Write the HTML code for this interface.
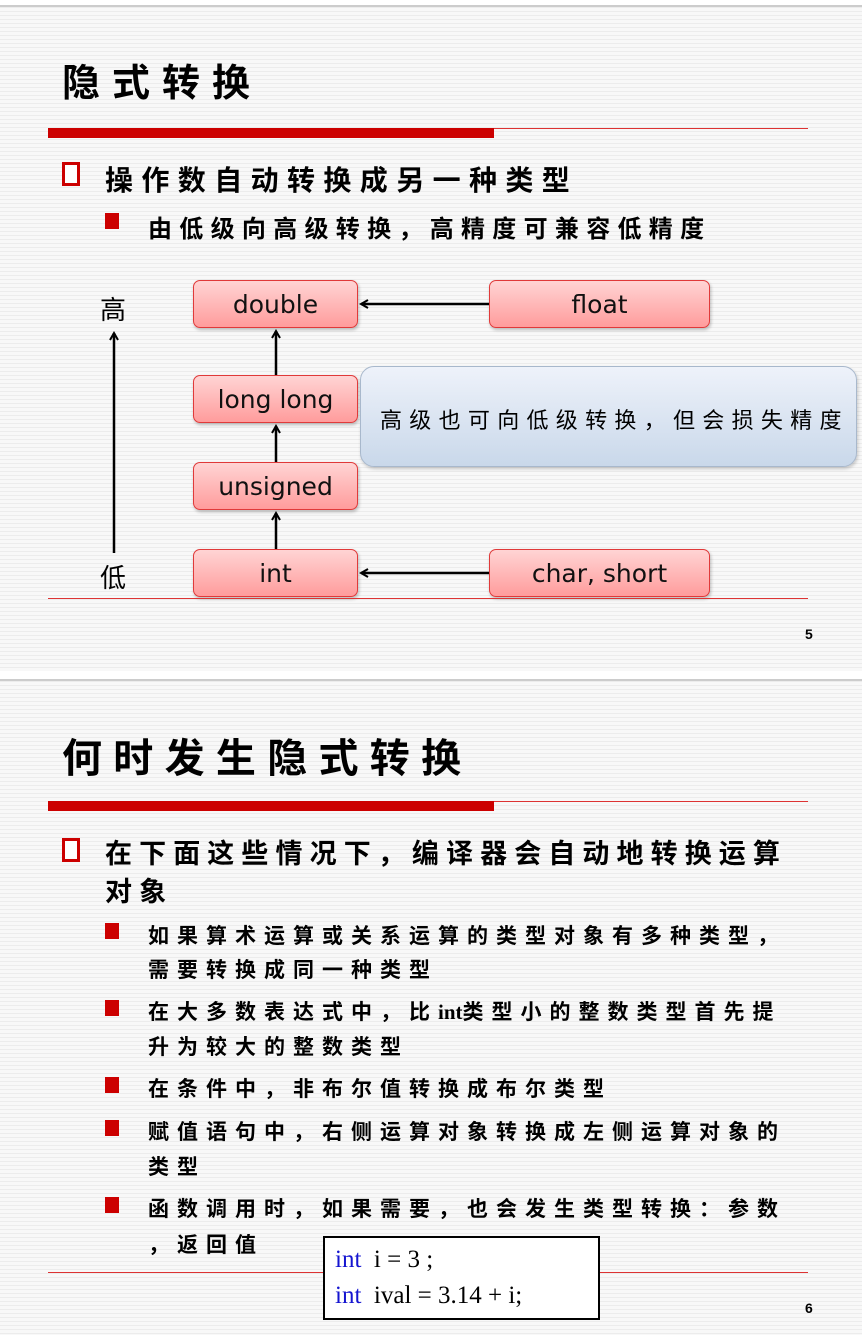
<!DOCTYPE html>
<html><head><meta charset="utf-8"><style>
*{margin:0;padding:0;box-sizing:border-box}
body{width:862px;height:1335px;position:relative;overflow:hidden;background:#fff;font-family:"Liberation Sans","Noto Sans CJK SC",sans-serif;color:#000}
.slide{position:absolute;left:0;width:862px;background:repeating-linear-gradient(to bottom,#ececec 0px,#ececec 1px,#f8f8f8 1px,#f8f8f8 4px)}
.a{position:absolute;white-space:nowrap}
.t{font-weight:bold;font-family:"Noto Sans CJK SC","WenQuanYi Zen Hei",sans-serif}
.box{position:absolute;border:1px solid #e03a3a;border-radius:7px;background:linear-gradient(#ffd4d4,#ff9c9c);box-shadow:1px 2px 3px rgba(0,0,0,.25);font-family:"DejaVu Sans","Liberation Sans",sans-serif;font-size:25px;text-align:center;line-height:48px;color:#111}
.hs{position:absolute;width:18px;height:24px;border:3px solid #c00;background:#fff}
.fs{position:absolute;width:14px;height:16px;background:#c00}
.rl{position:absolute;height:1px;background:#d33}
</style></head><body>
<div class="slide" style="top:0;height:666px;border-top:2px solid #ccc;margin-top:5px"></div>
<div class="slide" style="top:679px;height:656px;border-top:2px solid #ccc"></div>

<!-- slide 1 -->
<div class="a t" style="left:62px;top:52px;font-size:38px;letter-spacing:12px">隐式转换</div>
<div class="a" style="left:48px;top:128px;width:446px;height:10px;background:#c00"></div>
<div class="rl" style="left:494px;top:128px;width:314px"></div>
<div class="hs" style="left:62px;top:162px"></div>
<div class="a t" style="left:105px;top:159px;font-size:28px;letter-spacing:8.4px">操作数自动转换成另一种类型</div>
<div class="fs" style="left:105px;top:213px"></div>
<div class="a t" style="left:148px;top:209px;font-size:24px;letter-spacing:7.3px">由低级向高级转换，高精度可兼容低精度</div>

<div class="a" style="left:100px;top:290px;font-size:26px;font-family:'Noto Sans CJK SC',sans-serif">高</div>
<div class="a" style="left:100px;top:558px;font-size:26px;font-family:'Noto Sans CJK SC',sans-serif">低</div>
<svg class="a" style="left:0;top:0" width="862" height="666">
<defs><marker id="ar" markerWidth="10" markerHeight="10" refX="8" refY="5" orient="auto" markerUnits="userSpaceOnUse"><path d="M1,1 L8,5 L1,9" fill="none" stroke="#000" stroke-width="2"/></marker></defs>
<g stroke="#000" stroke-width="2.5" fill="none">
<line x1="114" y1="553" x2="114" y2="333" marker-end="url(#ar)"/>
<line x1="489" y1="304" x2="361" y2="304" marker-end="url(#ar)"/>
<line x1="489" y1="573" x2="361" y2="573" marker-end="url(#ar)"/>
<line x1="276" y1="375" x2="276" y2="331" marker-end="url(#ar)"/>
<line x1="276" y1="462" x2="276" y2="426" marker-end="url(#ar)"/>
<line x1="276" y1="549" x2="276" y2="513" marker-end="url(#ar)"/>
</g></svg>
<div class="box" style="left:193px;top:280px;width:165px;height:48px">double</div>
<div class="box" style="left:489px;top:280px;width:221px;height:48px">float</div>
<div class="box" style="left:193px;top:375px;width:165px;height:48px">long long</div>
<div class="box" style="left:193px;top:462px;width:165px;height:48px">unsigned</div>
<div class="box" style="left:193px;top:549px;width:165px;height:48px">int</div>
<div class="box" style="left:489px;top:549px;width:221px;height:48px">char, short</div>
<div class="a" style="left:360px;top:366px;width:497px;height:101px;border:1px solid #a8b8cc;border-radius:14px;background:linear-gradient(#eef2fa,#c9d8ea);box-shadow:1px 2px 3px rgba(0,0,0,.2)"></div>
<div class="a" style="left:380px;top:403px;font-size:22px;letter-spacing:7.3px;font-family:'Noto Sans CJK SC',sans-serif">高级也可向低级转换，但会损失精度</div>
<div class="rl" style="left:48px;top:598px;width:760px"></div>
<div class="a" style="left:805px;top:626px;font-size:14px;font-weight:bold">5</div>

<!-- slide 2 -->
<div class="a t" style="left:62px;top:726px;font-size:40px;letter-spacing:11.3px">何时发生隐式转换</div>
<div class="a" style="left:48px;top:801px;width:446px;height:10px;background:#c00"></div>
<div class="rl" style="left:494px;top:801px;width:314px"></div>
<div class="hs" style="left:62px;top:838px"></div>
<div class="a t" style="left:105px;top:832px;font-size:27px;letter-spacing:7.1px">在下面这些情况下，编译器会自动地转换运算</div>
<div class="a t" style="left:105px;top:870px;font-size:27px;letter-spacing:7.1px">对象</div>
<div class="fs" style="left:105px;top:923px"></div>
<div class="a t" style="left:148px;top:920px;font-size:21px;letter-spacing:8px">如果算术运算或关系运算的类型对象有多种类型，</div>
<div class="a t" style="left:148px;top:954px;font-size:21px;letter-spacing:8px">需要转换成同一种类型</div>
<div class="fs" style="left:105px;top:1000px"></div>
<div class="a t" style="left:148px;top:996px;font-size:21px;letter-spacing:8px">在大多数表达式中，比<span style="font-family:'Liberation Serif',serif;letter-spacing:0">int</span>类型小的整数类型首先提</div>
<div class="a t" style="left:148px;top:1031px;font-size:21px;letter-spacing:8px">升为较大的整数类型</div>
<div class="fs" style="left:105px;top:1077px"></div>
<div class="a t" style="left:148px;top:1073px;font-size:21px;letter-spacing:8px">在条件中，非布尔值转换成布尔类型</div>
<div class="fs" style="left:105px;top:1120px"></div>
<div class="a t" style="left:148px;top:1116px;font-size:21px;letter-spacing:8px">赋值语句中，右侧运算对象转换成左侧运算对象的</div>
<div class="a t" style="left:148px;top:1151px;font-size:21px;letter-spacing:8px">类型</div>
<div class="fs" style="left:105px;top:1197px"></div>
<div class="a t" style="left:148px;top:1193px;font-size:21px;letter-spacing:8px">函数调用时，如果需要，也会发生类型转换：参数</div>
<div class="a t" style="left:148px;top:1229px;font-size:21px;letter-spacing:8px">，返回值</div>
<div class="rl" style="left:48px;top:1272px;width:760px"></div>
<div class="a" style="left:323px;top:1236px;width:277px;height:84px;border:2px solid #000;background:#fff;font-family:'Liberation Serif',serif;font-size:25px;line-height:36px;padding:4px 0 0 10px">
<div><span style="color:#1515d0">int</span>&nbsp; i = 3 ;</div>
<div><span style="color:#1515d0">int</span>&nbsp; ival = 3.14 + i;</div>
</div>
<div class="a" style="left:805px;top:1300px;font-size:14px;font-weight:bold">6</div>
</body></html>
